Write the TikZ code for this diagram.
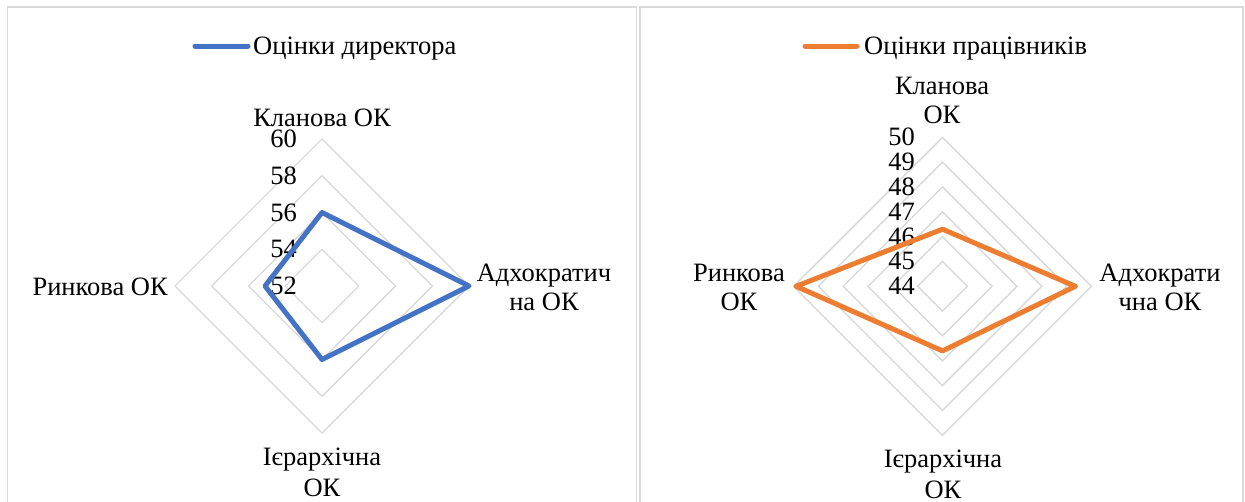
\documentclass[tikz,border=0pt]{standalone}
\usepackage{fontspec}
\setmainfont{Liberation Serif}
\definecolor{dirblue}{HTML}{4472C4}
\definecolor{staforange}{HTML}{ED7D31}
\definecolor{gridgray}{HTML}{D9D9D9}
\definecolor{framegray}{HTML}{D9D9D9}
\begin{document}
\begin{tikzpicture}[x=1pt,y=-1pt,
  lbl/.style={font=\fontsize{26.5}{30}\selectfont, inner sep=0pt, anchor=base},
  tick/.style={font=\fontsize{26.5}{30}\selectfont, inner sep=0pt, anchor=base east},
  ring/.style={draw=gridgray, line width=1.4pt},
  panel/.style={draw=framegray, line width=1.5pt},
  series/.style={line width=5pt, line join=round, line cap=round},
  legendline/.style={line width=5pt, line cap=round}]
\clip (0,0) rectangle (1245,501);
\fill[white] (0,0) rectangle (1245,501);

% chart frames
\draw[panel] (7.5,520) -- (7.5,7) -- (636.5,7) -- (636.5,520);
\draw[panel] (640,520) -- (640,7) -- (1243,7) -- (1243,520);

% ---------- director chart ----------
\def\cx{322}\def\cy{286}\def\st{36.75}
\foreach \k in {1,...,4}{
  \pgfmathsetmacro{\r}{\k*\st}
  \draw[ring] (\cx,\cy-\r) -- (\cx+\r,\cy) -- (\cx,\cy+\r) -- (\cx-\r,\cy) -- cycle;
}
\foreach \v [count=\i from 0] in {52,54,56,58,60}{
  \node[tick] (dtick\v) at (297,\cy-\i*\st+8.5) {\v};
}
\coordinate (dA) at (322,212.5);
\coordinate (dB) at (469,286);
\coordinate (dC) at (322,359.5);
\coordinate (dD) at (265,286);
\draw[series, draw=dirblue] (dA) -- (dB) -- (dC) -- (dD) -- cycle;

\coordinate (dl1) at (195,46);
\coordinate (dl2) at (248,46);
\draw[legendline, draw=dirblue] (dl1) -- (dl2);
\node[lbl, anchor=base west] (dleg) at (253,54.5) {Оцінки директора};

\node[lbl] (dclan) at (322,126) {Кланова ОК};
\node[lbl] (dadh1) at (544,281) {Адхократич};
\node[lbl] (dadh2) at (544,310) {на ОК};
\node[lbl, anchor=base east] (dmark) at (168,295) {Ринкова ОК};
\node[lbl] (dier1) at (322,465) {Ієрархічна};
\node[lbl] (dier2) at (322,496) {ОК};

% ---------- staff chart ----------
\def\ex{942.5}\def\ey{286.3}\def\et{24.83}
\foreach \k in {1,...,6}{
  \pgfmathsetmacro{\r}{\k*\et}
  \draw[ring] (\ex,\ey-\r) -- (\ex+\r,\ey) -- (\ex,\ey+\r) -- (\ex-\r,\ey) -- cycle;
}
\foreach \v [count=\i from 0] in {44,45,46,47,48,49,50}{
  \node[tick] (stick\v) at (915,\ey-\i*\et+8.5) {\v};
}
\coordinate (sA) at (942.5,229.2);
\coordinate (sB) at (1075.4,286.3);
\coordinate (sC) at (942.5,350.9);
\coordinate (sD) at (796,286.3);
\draw[series, draw=staforange] (sA) -- (sB) -- (sC) -- (sD) -- cycle;

\coordinate (sl1) at (805,46);
\coordinate (sl2) at (857,46);
\draw[legendline, draw=staforange] (sl1) -- (sl2);
\node[lbl, anchor=base west] (sleg) at (864,54.5) {Оцінки працівників};

\node[lbl] (sclan1) at (942,94) {Кланова};
\node[lbl] (sclan2) at (942,123.5) {ОК};
\node[lbl] (sadh1) at (1160,281.5) {Адхократи};
\node[lbl] (sadh2) at (1160,310) {чна ОК};
\node[lbl] (smark1) at (739,281.5) {Ринкова};
\node[lbl] (smark2) at (739,310) {ОК};
\node[lbl] (sier1) at (943,467) {Ієрархічна};
\node[lbl] (sier2) at (943,498) {ОК};
\end{tikzpicture}
\end{document}
